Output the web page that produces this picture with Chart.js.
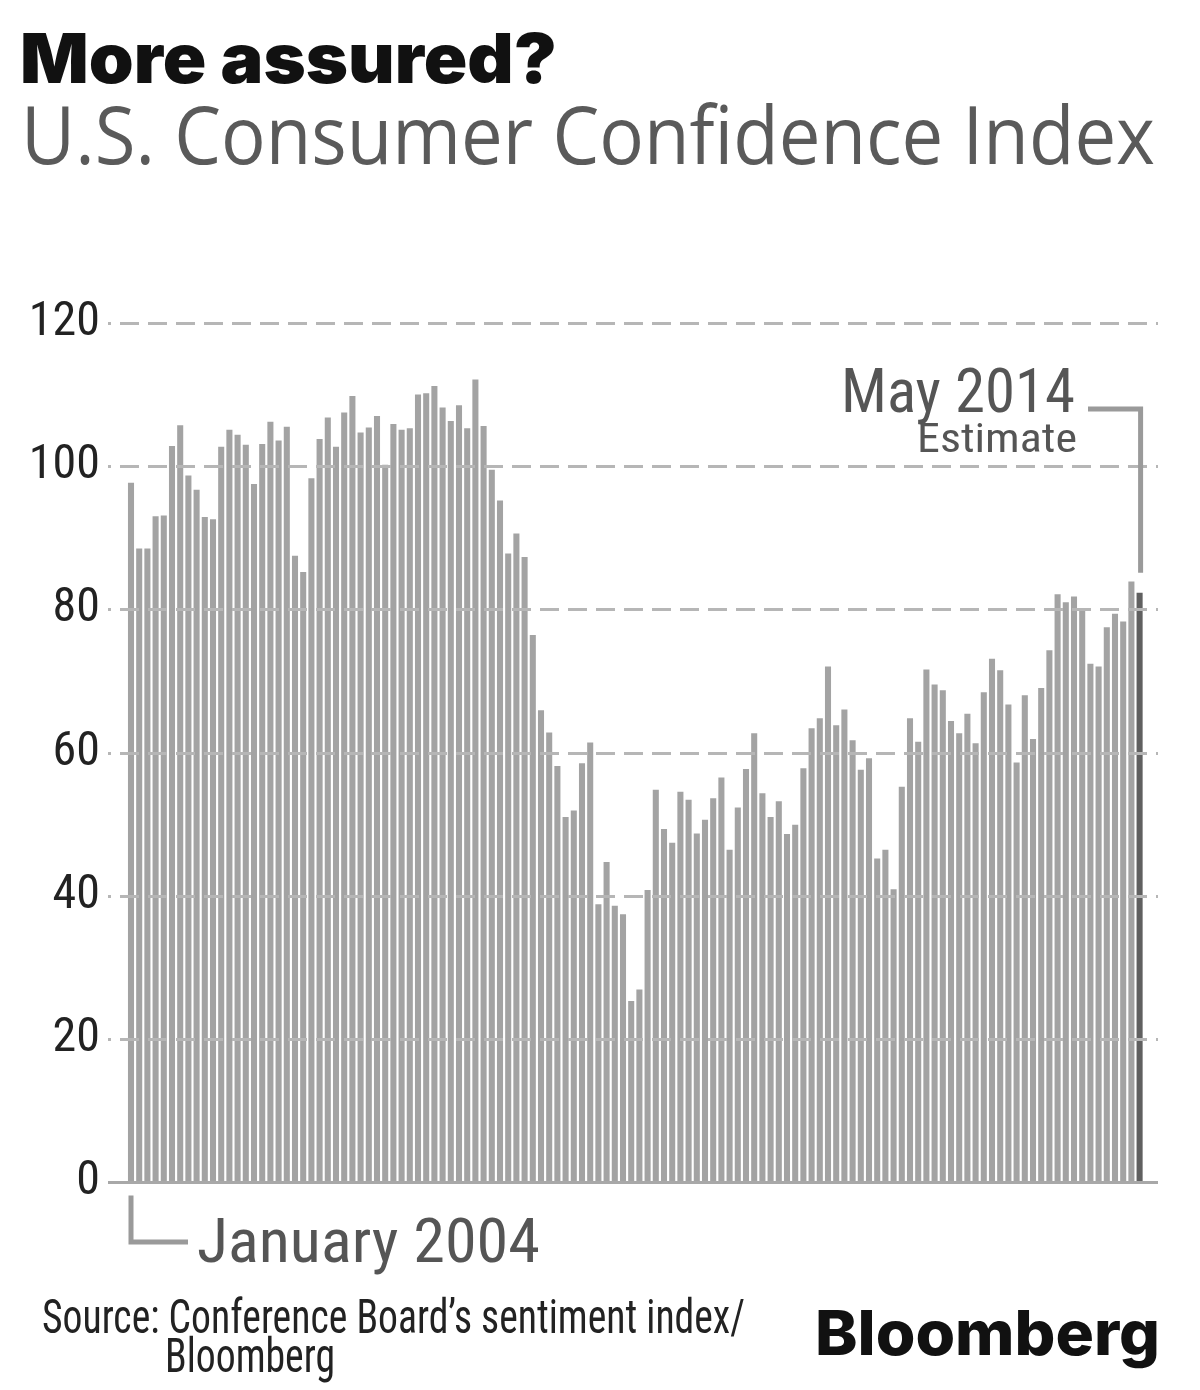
<!DOCTYPE html>
<html>
<head>
<meta charset="utf-8">
<script src="https://cdn.jsdelivr.net/npm/chart.js@4.4.1/dist/chart.umd.min.js"></script>
<style>
html,body{margin:0;padding:0;background:#fff;}
#wrap{position:relative;width:1200px;height:1390px;overflow:hidden;background:#fff;}
#c{position:absolute;left:0;top:0;}
#ov{position:absolute;left:0;top:0;pointer-events:none;}
</style>
</head>
<body>
<div id="wrap">
<canvas id="c" width="1200" height="1390"></canvas>
<svg id="ov" width="1200" height="1390" xmlns="http://www.w3.org/2000/svg">
  <text x="20" y="83" font-family="Inter, 'Open Sans', sans-serif" font-weight="900" font-size="69" fill="#111" textLength="537" lengthAdjust="spacingAndGlyphs">More assured?</text>
  <text x="21" y="164" font-family="'Open Sans', Roboto, sans-serif" font-weight="400" font-size="80" fill="#5a5a5a" textLength="1134" lengthAdjust="spacingAndGlyphs">U.S. Consumer Confidence Index</text>
  <text x="841" y="412" font-family="'Liberation Sans Narrow', 'Roboto Condensed', 'DejaVu Sans Condensed', Roboto, sans-serif" font-size="62" fill="#555" textLength="234" lengthAdjust="spacingAndGlyphs">May 2014</text>
  <text x="917" y="452" font-family="'Liberation Sans Narrow', 'Roboto Condensed', 'DejaVu Sans Condensed', Roboto, sans-serif" font-size="41" fill="#555" textLength="160" lengthAdjust="spacingAndGlyphs">Estimate</text>
  <text x="197" y="1262" font-family="'Liberation Sans Narrow', 'Roboto Condensed', 'DejaVu Sans Condensed', Roboto, sans-serif" font-size="62" fill="#555" textLength="343" lengthAdjust="spacingAndGlyphs">January 2004</text>
  <text x="42" y="1333" font-family="'Liberation Sans Narrow', 'Roboto Condensed', 'DejaVu Sans Condensed', Roboto, sans-serif" font-size="49" fill="#222" textLength="703" lengthAdjust="spacingAndGlyphs">Source: Conference Board’s sentiment index/</text>
  <text x="165" y="1372" font-family="'Liberation Sans Narrow', 'Roboto Condensed', 'DejaVu Sans Condensed', Roboto, sans-serif" font-size="49" fill="#222" textLength="170" lengthAdjust="spacingAndGlyphs">Bloomberg</text>
  <text x="815" y="1355" font-family="Inter, 'Open Sans', sans-serif" font-weight="800" font-size="62" fill="#111" textLength="345" lengthAdjust="spacingAndGlyphs">Bloomberg</text>
</svg>
</div>
<script>
// ---- Data (Conference Board Consumer Confidence Index, monthly) ----
const years = [2004, 2005, 2006, 2007, 2008, 2009, 2010, 2011, 2012, 2013, 2014];
const monthNames = ["Jan","Feb","Mar","Apr","May","Jun","Jul","Aug","Sep","Oct","Nov","Dec"];
const values2004 = [97.7, 88.5, 88.5, 93.0, 93.1, 102.8, 105.7, 98.7, 96.7, 92.9, 92.6, 102.7];
const values2005 = [105.1, 104.4, 103.0, 97.5, 103.1, 106.2, 103.6, 105.5, 87.5, 85.2, 98.3, 103.8];
const values2006 = [106.8, 102.7, 107.5, 109.8, 104.7, 105.4, 107.0, 100.2, 105.9, 105.1, 105.3, 110.0];
const values2007 = [110.2, 111.2, 108.2, 106.3, 108.5, 105.3, 112.1, 105.6, 99.5, 95.2, 87.8, 90.6];
const values2008 = [87.3, 76.4, 65.9, 62.8, 58.1, 51.0, 51.9, 58.5, 61.4, 38.8, 44.7, 38.6];
const values2009 = [37.4, 25.3, 26.9, 40.8, 54.8, 49.3, 47.4, 54.5, 53.4, 48.7, 50.6, 53.6];
const values2010 = [56.5, 46.4, 52.3, 57.7, 62.7, 54.3, 51.0, 53.2, 48.6, 49.9, 57.8, 63.4];
const values2011 = [64.8, 72.0, 63.8, 66.0, 61.7, 57.6, 59.2, 45.2, 46.4, 40.9, 55.2, 64.8];
const values2012 = [61.5, 71.6, 69.5, 68.7, 64.4, 62.7, 65.4, 61.3, 68.4, 73.1, 71.5, 66.7];
const values2013 = [58.6, 68.0, 61.9, 69.0, 74.3, 82.1, 81.0, 81.8, 80.2, 72.4, 72.0, 77.5];
const values2014 = [79.4, 78.3, 83.9, 82.3];
const yTicks = [0, 20, 40, 60, 80, 100, 120];

const yearValues = [values2004, values2005, values2006, values2007, values2008, values2009,
                    values2010, values2011, values2012, values2013, values2014];
const values = [].concat(...yearValues);
const labels = [];
yearValues.forEach((arr, yi) => arr.forEach((v, mi) => labels.push(monthNames[mi] + " " + years[yi])));

const BAR = '#a3a3a3';
const BAR_LAST = '#606060';
const colors = values.map((v, i) => i === values.length - 1 ? BAR_LAST : BAR);

const GRID_LEFT = 108, GRID_RIGHT = 1158;

const refPlugin = {
  id: 'refPlugin',
  afterDatasetsDraw(chart) {
    const ctx = chart.ctx;
    const x = chart.scales.x, y = chart.scales.y;
    ctx.save();
    // dashed gridlines
    ctx.strokeStyle = '#b6b6b6';
    ctx.lineWidth = 3;
    ctx.setLineDash([19, 9]);
    ctx.lineDashOffset = 16;
    yTicks.forEach(v => {
      if (v === 0) return;
      const py = Math.round(y.getPixelForValue(v)) + 0.5;
      ctx.beginPath();
      ctx.moveTo(GRID_LEFT, py);
      ctx.lineTo(GRID_RIGHT, py);
      ctx.stroke();
    });
    // solid baseline
    ctx.setLineDash([]);
    ctx.strokeStyle = '#a8a8a8';
    ctx.lineWidth = 3;
    const y0 = Math.round(y.getPixelForValue(0)) + 0.5;
    ctx.beginPath();
    ctx.moveTo(GRID_LEFT, y0);
    ctx.lineTo(GRID_RIGHT, y0);
    ctx.stroke();
    // leader lines
    ctx.strokeStyle = '#9a9a9a';
    ctx.lineWidth = 5;
    ctx.lineJoin = 'miter';
    ctx.lineCap = 'butt';
    const xFirst = x.getPixelForValue(0);
    ctx.beginPath();
    ctx.moveTo(xFirst, y0 + 13);
    ctx.lineTo(xFirst, 1242);
    ctx.lineTo(188, 1242);
    ctx.stroke();
    const n = values.length;
    const xLast = x.getPixelForValue(n - 1) + 1;
    const yLast = y.getPixelForValue(values[n - 1]);
    ctx.beginPath();
    ctx.moveTo(1088, 409);
    ctx.lineTo(xLast, 409);
    ctx.lineTo(xLast, yLast - 20);
    ctx.stroke();
    ctx.restore();
  }
};

new Chart(document.getElementById('c'), {
  type: 'bar',
  data: {
    labels: labels,
    datasets: [{
      data: values,
      backgroundColor: colors,
      borderWidth: 0,
      barPercentage: 0.74,
      categoryPercentage: 1.0
    }]
  },
  options: {
    responsive: false,
    animation: false,
    devicePixelRatio: 1,
    layout: { padding: { left: 0, right: 56.3, top: 323, bottom: 208 } },
    plugins: { legend: { display: false }, tooltip: { enabled: false }, title: { display: false } },
    scales: {
      x: { display: false, grid: { display: false } },
      y: {
        min: 0, max: 120,
        afterFit(s) { s.width = 126.9; },
        afterBuildTicks(s) { s.ticks = yTicks.map(v => ({ value: v })); },
        border: { display: false },
        grid: { display: false, drawTicks: false },
        ticks: {
          padding: 27,
          color: '#222',
          font: { family: "'Liberation Sans Narrow', 'Roboto Condensed', 'DejaVu Sans Condensed', Roboto, sans-serif", size: 48 }
        }
      }
    }
  },
  plugins: [refPlugin]
});
</script>
</body>
</html>
